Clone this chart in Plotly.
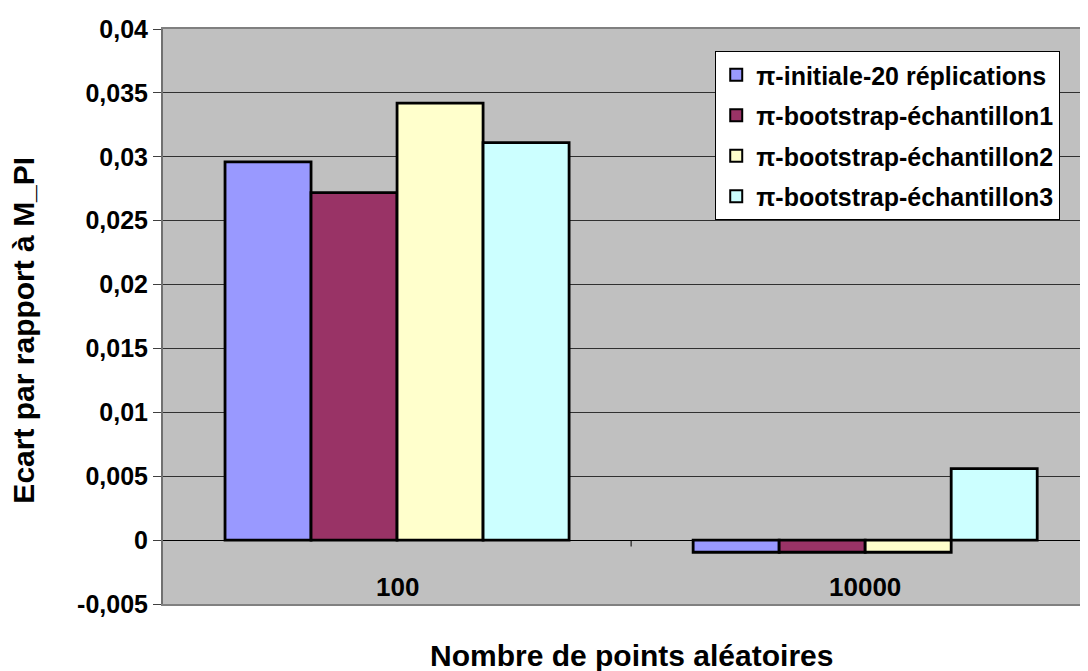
import plotly.graph_objects as go

categories = ["100", "10000"]
series_names = [
    "π-initiale-20 réplications",
    "π-bootstrap-échantillon1",
    "π-bootstrap-échantillon2",
    "π-bootstrap-échantillon3",
]
initiale = [0.0296, -0.00095]
boot1 = [0.0272, -0.00095]
boot2 = [0.0342, -0.00095]
boot3 = [0.0311, 0.0056]
series_values = [initiale, boot1, boot2, boot3]
colors = ["#9999FF", "#993366", "#FFFFCC", "#CCFFFF"]

ytick_vals = [-0.005, 0, 0.005, 0.01, 0.015, 0.02, 0.025, 0.03, 0.035, 0.04]
ytick_text = ["-0,005", "0", "0,005", "0,01", "0,015", "0,02", "0,025", "0,03", "0,035", "0,04"]

x_title = "Nombre de points aléatoires"
y_title = "Ecart par rapport à M_PI"

FONT = "Liberation Sans, Arial, sans-serif"

fig = go.Figure()
for i, (name, vals) in enumerate(zip(series_names, series_values)):
    fig.add_trace(go.Bar(
        x=categories, y=vals, name=name,
        marker=dict(color=colors[i], line=dict(color="black", width=2.8)),
        legendgroup=f"g{i}",
    ))

# the page body adds an 8px offset, so the figure is 16px smaller than the window
fig.update_layout(
    width=1080, height=663,
    margin=dict(l=155, r=0, t=21, b=67),
    paper_bgcolor="white",
    plot_bgcolor="#C0C0C0",
    barmode="group",
    bargap=0.265,
    bargroupgap=0,
    showlegend=True,
    font=dict(family=FONT, color="black"),
    legend=dict(
        x=0.597, y=0.9617, xanchor="left", yanchor="top",
        bgcolor="white", bordercolor="black", borderwidth=1,
        font=dict(family=FONT, size=25, weight="bold"),
        tracegroupgap=5,
        itemsizing="constant",
    ),
    xaxis=dict(
        type="category",
        range=[-0.5, 1.476],
        showticklabels=False,
        ticks="",
        showline=True, linecolor="#808080", linewidth=2, mirror=True,
        showgrid=False, zeroline=False,
        fixedrange=True,
    ),
    yaxis=dict(
        range=[-0.005, 0.04],
        tickvals=ytick_vals, ticktext=ytick_text,
        ticks="outside", ticklen=8, tickcolor="#404040", tickwidth=1,
        tickfont=dict(family=FONT, size=25, weight="bold"),
        showline=True, linecolor="#707070", linewidth=2,
        showgrid=True, gridcolor="#303030", gridwidth=1,
        zeroline=True, zerolinecolor="black", zerolinewidth=1,
        fixedrange=True,
    ),
)

# category labels (placed low, inside plot area)
for idx, c in enumerate(categories):
    fig.add_annotation(
        x=idx, xref="x", y=-0.0037, yref="y",
        text=c, showarrow=False,
        font=dict(family=FONT, size=26, weight="bold"),
        xanchor="center", yanchor="middle",
    )

# category boundary tick at the zero line
fig.add_shape(type="line", xref="x", yref="y", x0=0.5, x1=0.5, y0=0, y1=-0.0005,
              line=dict(color="black", width=1))

fig.add_annotation(
    x=0.507, xref="paper", y=-0.0887, yref="paper",
    text=x_title, showarrow=False,
    font=dict(family=FONT, size=30, weight="bold"),
    xanchor="center", yanchor="middle",
)
fig.add_annotation(
    x=-0.151, xref="paper", y=0.476, yref="paper",
    text=y_title, showarrow=False, textangle=-90,
    font=dict(family=FONT, size=30, weight="bold"),
    xanchor="center", yanchor="middle",
)

fig.write_html("out.html")
